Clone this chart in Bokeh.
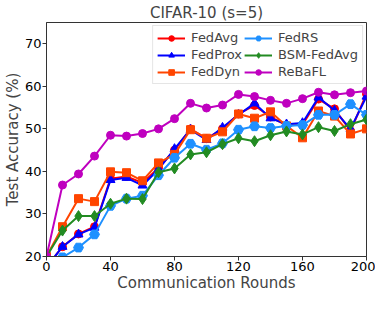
from bokeh.plotting import figure
from bokeh.models import Legend, LegendItem, FixedTicker
from bokeh.embed import file_html
from bokeh.resources import INLINE

rounds = list(range(0, 201, 10))
fedavg = [17.5, 22.3, 25.3, 27.0, 38.3, 38.8, 37.3, 40.8, 45.0, 50.0, 47.7, 50.0, 53.5, 55.5, 52.8, 50.8, 51.0, 57.0, 54.7, 49.5, 58.2]
fedprox = [17.5, 22.3, 25.2, 26.8, 38.0, 38.5, 36.7, 40.5, 45.3, 49.8, 47.4, 50.3, 53.3, 56.0, 52.5, 51.1, 51.4, 57.4, 54.3, 50.0, 57.6]
feddyn = [20.0, 27.0, 33.6, 32.9, 39.9, 39.7, 37.8, 42.0, 44.0, 49.8, 47.8, 49.3, 53.5, 52.5, 54.0, 50.7, 47.9, 54.2, 53.0, 48.8, 50.0]
fedrs = [15.0, 19.8, 22.1, 25.2, 31.9, 33.6, 34.3, 39.1, 43.2, 46.5, 45.1, 46.6, 49.8, 50.6, 50.2, 50.7, 50.9, 53.3, 53.3, 55.8, 53.3]
bsm = [20.0, 26.1, 29.5, 29.5, 32.4, 33.6, 33.5, 39.8, 40.7, 44.0, 44.5, 46.4, 47.8, 47.1, 48.5, 49.4, 48.7, 50.4, 49.5, 51.1, 52.2]
rebafl = [20.0, 36.8, 39.4, 43.6, 48.5, 48.3, 48.9, 50.0, 52.4, 56.0, 54.9, 55.6, 58.1, 57.6, 56.7, 56.0, 57.1, 58.6, 58.0, 58.5, 58.9]

x_ticks = [0, 40, 80, 120, 160, 200]
y_ticks = [20, 30, 40, 50, 60, 70]

series = [
    ("FedAvg", fedavg, "#ff0000", "circle", 8),
    ("FedProx", fedprox, "#0000ff", "triangle", 9),
    ("FedDyn", feddyn, "#ff4500", "square", 8),
    ("FedRS", fedrs, "#1e90ff", "hex", 10),
    ("BSM-FedAvg", bsm, "#228b22", "diamond", 11),
    ("ReBaFL", rebafl, "#bf00bf", "circle", 8),
]

FONT = "DejaVu Sans"

p = figure(width=375, height=294, output_backend="svg", toolbar_location=None,
           x_range=(0, 200), y_range=(20, 75),
           min_border_left=0, min_border_right=9, min_border_top=0, min_border_bottom=0,
           title="CIFAR-10 (s=5)")
p.title.align = "center"
p.title.text_font = FONT
p.title.text_font_size = "15px"
p.title.text_font_style = "normal"
p.title.standoff = 2
p.title.offset = 0

p.xgrid.visible = False
p.ygrid.visible = False
p.outline_line_color = "#333333"
p.outline_line_width = 1

for ax in (p.xaxis[0], p.yaxis[0]):
    ax.major_label_text_font = FONT
    ax.major_label_text_font_size = "13px"
    ax.major_label_text_color = "black"
    ax.major_label_text_line_height = 0.9
    ax.axis_label_text_font = FONT
    ax.axis_label_text_font_size = "15px"
    ax.axis_label_text_font_style = "normal"
    ax.axis_label_text_line_height = 0.9
    ax.axis_line_color = "#333333"
    ax.major_tick_line_color = "#333333"
    ax.major_tick_out = 4
    ax.major_tick_in = 0
    ax.minor_tick_line_color = None
    ax.axis_label_standoff = 0
    ax.major_label_standoff = 1

p.xaxis.ticker = FixedTicker(ticks=x_ticks)
p.yaxis.ticker = FixedTicker(ticks=y_ticks)
p.xaxis.axis_label = "Communication Rounds"
p.yaxis.axis_label = "Test Accuracy (%)"

items = []
for name, vals, color, marker, size in series:
    r1 = p.line(rounds, vals, line_color=color, line_width=2)
    r2 = p.scatter(rounds, vals, marker=marker, size=size, fill_color=color, line_color=color)
    items.append(LegendItem(label=name, renderers=[r1, r2]))

legend = Legend(items=items, location="top_right", ncols=2, orientation="vertical",
                label_text_font=FONT, label_text_font_size="13px",
                glyph_width=28, glyph_height=14, label_standoff=6, spacing=2,
                padding=4, margin=3, border_line_color="#cccccc",
                background_fill_alpha=0.9)
p.add_layout(legend)

open("out.html", "w").write(file_html(p, INLINE))
